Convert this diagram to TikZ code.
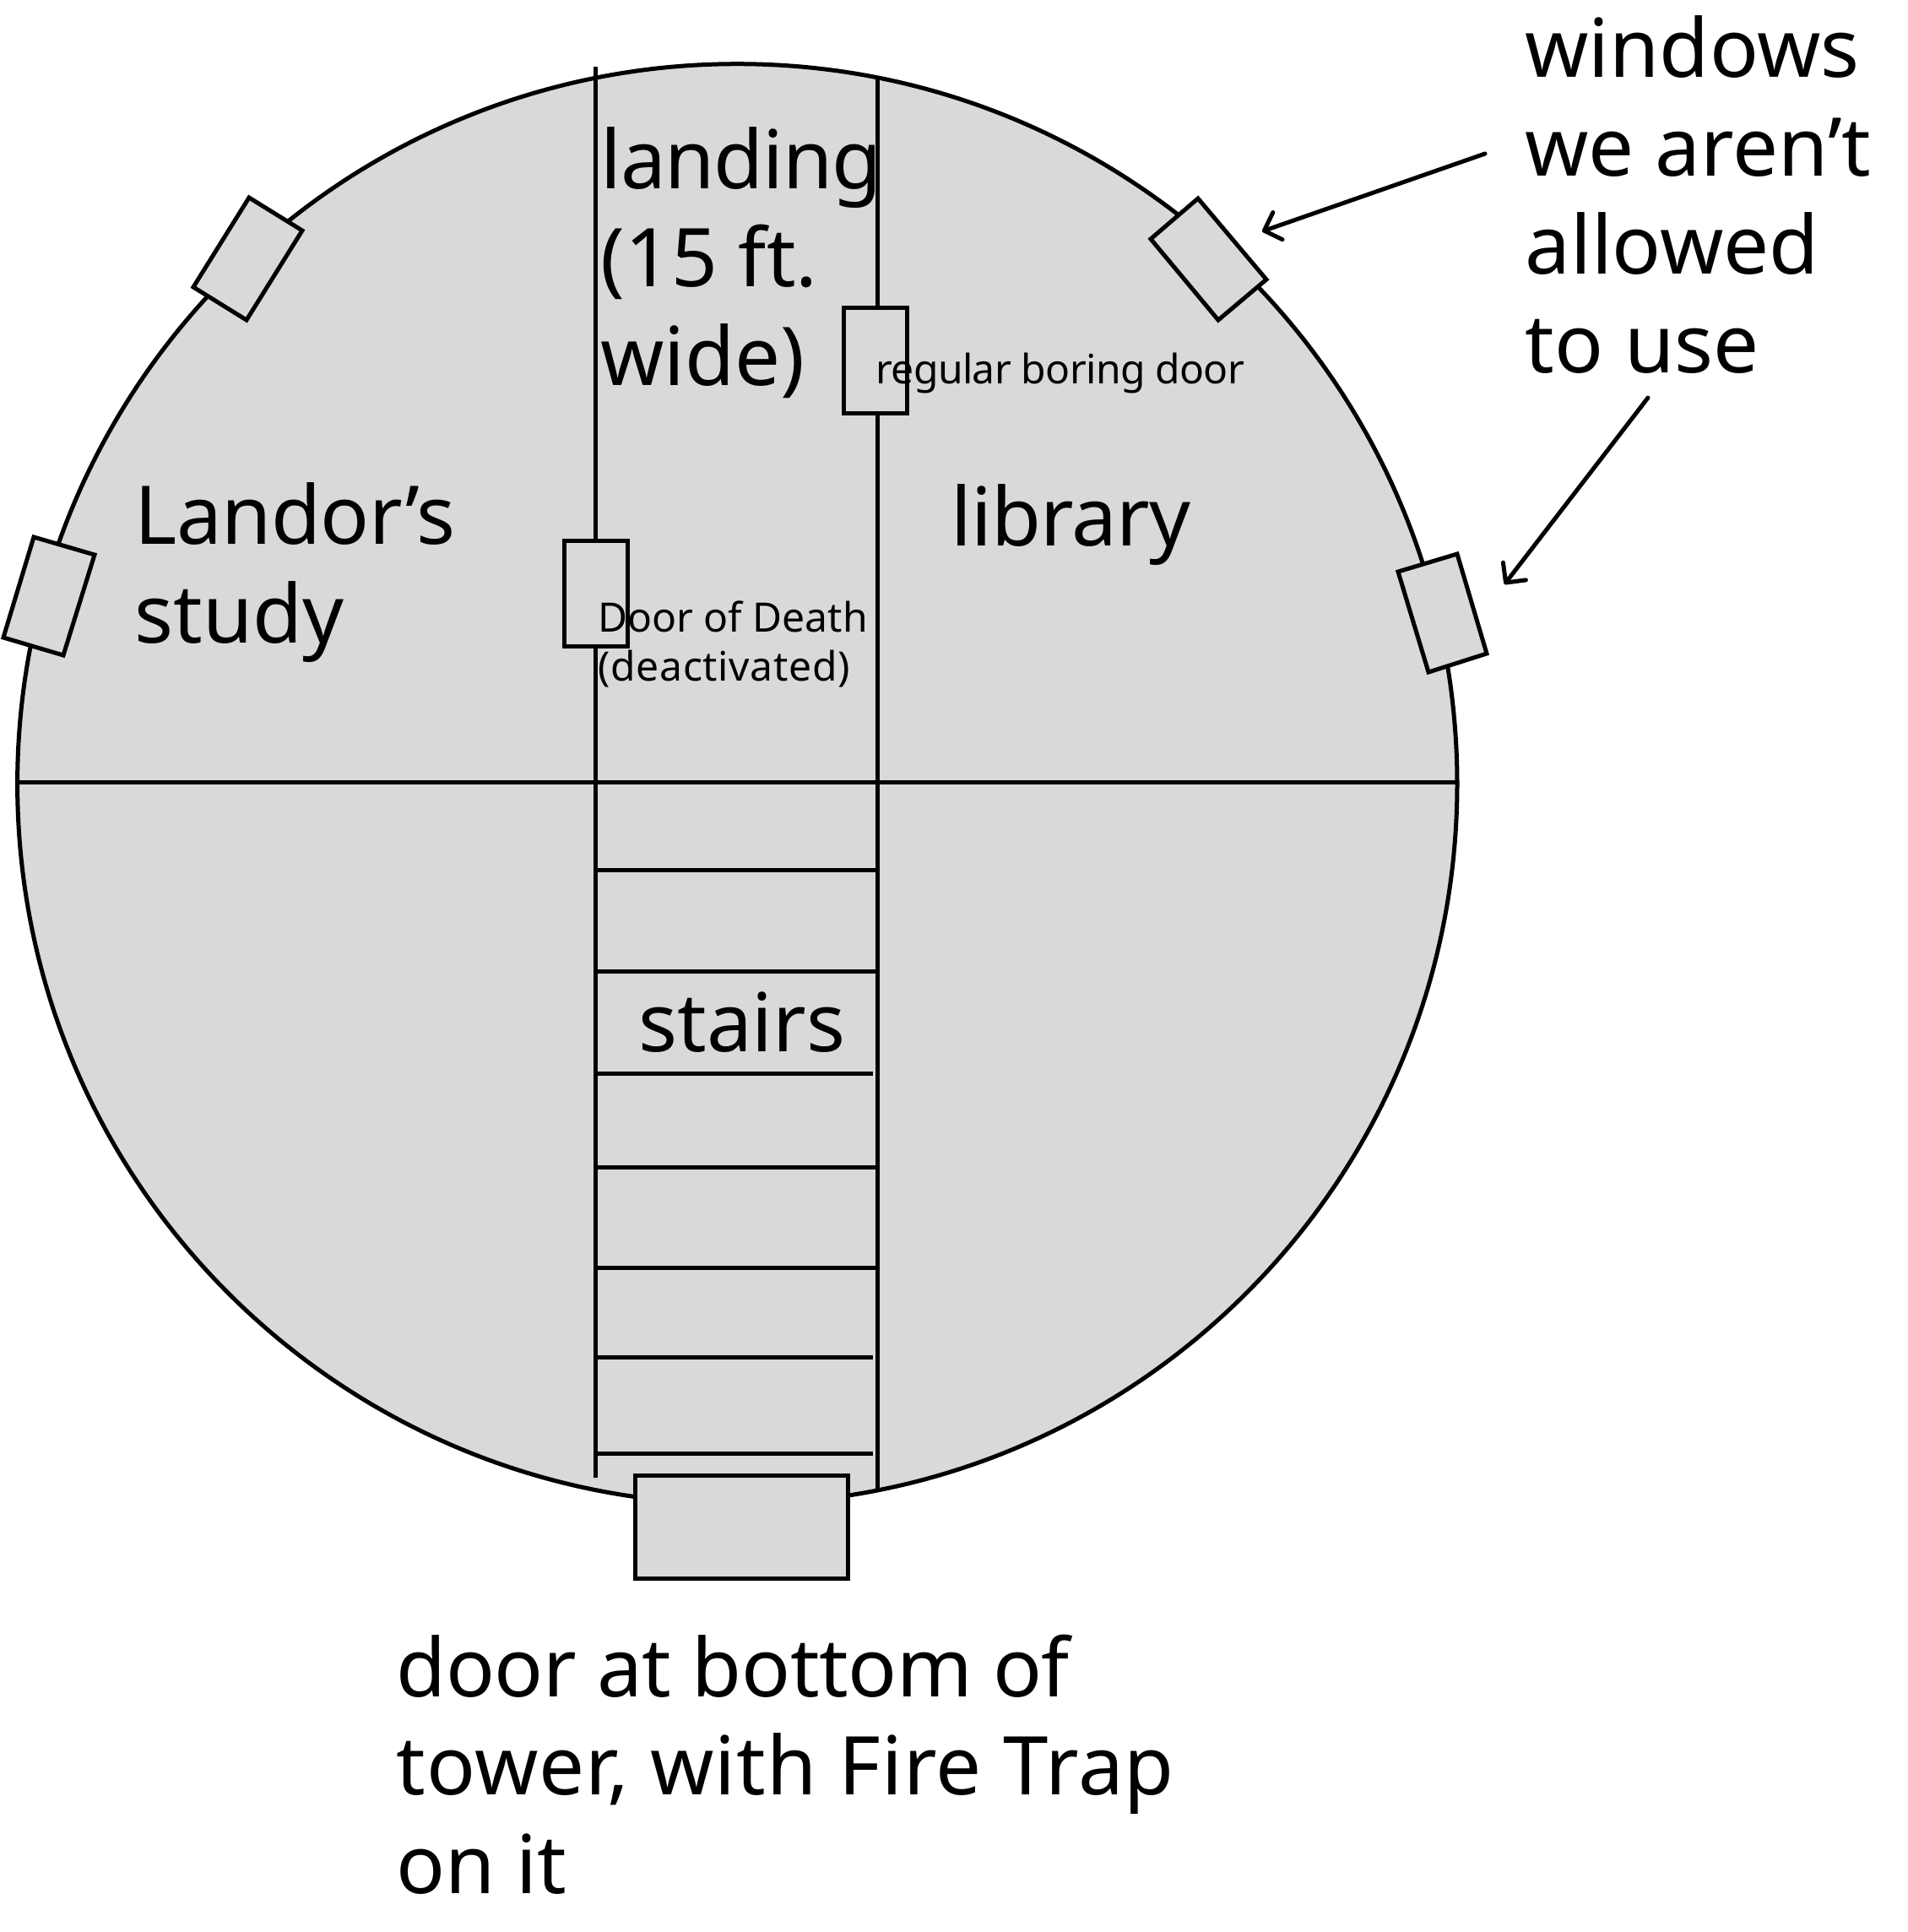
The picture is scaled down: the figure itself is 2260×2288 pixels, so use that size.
\documentclass[tikz,border=0pt]{standalone}
\usepackage{fontspec}
\usetikzlibrary{arrows.meta}
\setmainfont{Noto Sans}
\newcommand{\lsp}[2]{{\addfontfeature{LetterSpace=#1}#2}}
\definecolor{roomgray}{HTML}{D9D9D9}
\tikzset{
  wall/.style={draw=black,line width=2.5pt},
  shell/.style={wall,fill=roomgray},
  pointer/.style={draw=black,line width=2.5pt,-{Straight Barb[length=8.5pt,width=17pt,round]},line cap=round},
  bigtext/.style={anchor=base west,inner sep=0pt,align=left,text=black,font=\fontsize{48}{58.2}\selectfont},
  smalltext/.style={anchor=base west,inner sep=0pt,align=left,text=black,font=\fontsize{24}{29}\selectfont}
}
\begin{document}
\begin{tikzpicture}[x=0.5pt,y=-0.5pt]
\useasboundingbox (0,0) rectangle (2260,2288);
% tower
\draw[shell] (873.3,928.4) circle[radius=426.35pt];
\draw[wall] (21,926) -- (1726,926);
\draw[wall] (705.5,79) -- (705.5,1750);
\draw[wall] (1039,92) -- (1039,1763);
% stairs
\foreach \y/\e in {1030/1039,1150/1039,1271/1034,1382/1039,1501/1039,1607/1034,1721/1034}
  \draw[wall] (705.5,\y) -- (\e,\y);
% windows
\draw[shell] (295,234) -- (358,273) -- (292,379) -- (229,340) -- cycle;
\draw[shell] (40,636) -- (112,657) -- (75,776) -- (4,755) -- cycle;
\draw[shell] (1419,235) -- (1500,331) -- (1443,379) -- (1363,283) -- cycle;
\draw[shell] (1726,656) -- (1761,774) -- (1692,796) -- (1656,677) -- cycle;
% doors
\draw[shell] (999,364) rectangle (1074,489);
\draw[shell] (668,640) rectangle (743,765);
\draw[shell] (752,1747) rectangle (1004,1869);
% pointers
\coordinate (pa) at (1759,182);
\coordinate (pb) at (1495,274);
\coordinate (pc) at (1952,471);
\coordinate (pd) at (1782,692);
\draw[pointer] (pa) -- (pb);
\draw[pointer] (pc) -- (pd);
% labels
\node[bigtext] (landing) at (711,456) {\lsp{-1.3}{landing}\\(15 ft.\\wide)};
\node[bigtext] (study) at (159,761) {\lsp{-0.6}{Landor’s}\\study};
\node[bigtext] (library) at (1126,646) {\lsp{-0.9}{library}};
\node[bigtext] (stairs) at (756,1245) {stairs};
\node[bigtext] (windows) at (1806,441) {windows\\we aren’t\\allowed\\to use};
\node[bigtext] (bottom) at (469,2242) {\lsp{-0.5}{door at bottom of}\\\lsp{1}{tower, with Fire Trap}\\on it};
\node[smalltext] (regular) at (1037,454) {\lsp{-1.3}{regular boring door}};
\node[smalltext] (death) at (708,806) {Door of Death\\\lsp{1.4}{(deactivated)}};
\end{tikzpicture}
\end{document}
